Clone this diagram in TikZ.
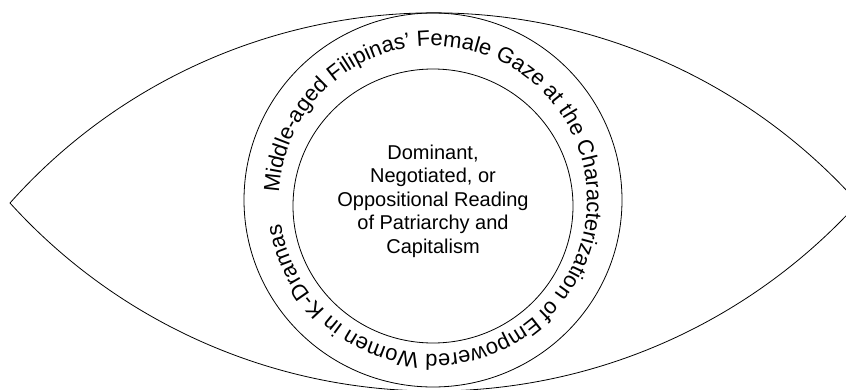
\documentclass[tikz,border=0pt]{standalone}
\usepackage{fontspec}
\setmainfont{Liberation Sans}
\usetikzlibrary{decorations.text}
\tikzset{
  thinline/.style={draw=black, line width=0.8pt},
  arctext/.style={decorate, decoration={text along path, text={#1}}}
}
\begin{document}
\begin{tikzpicture}[x=1pt,y=1pt]
\useasboundingbox (0,0) rectangle (846,389);
\clip (0,0) rectangle (846,389);
% eye outline
\coordinate (L) at (10,186);
\draw[thinline] (L) arc[start angle=138.3, end angle=41.7, radius=568];
\draw[thinline] (L) arc[start angle=222.17, end angle=317.83, radius=572.1];
% circles
\coordinate (Co) at (433,189);
\coordinate (Ci) at (433,183);
\draw[thinline] (Co) ellipse[x radius=189, y radius=187];
\draw[thinline] (Ci) ellipse[x radius=140, y radius=137];
% curved text
\path[arctext={|\fontsize{22}{22}\selectfont|Middle-aged Filipinas’ Female Gaze at the Characterization of Empowered Women in K-Dramas}]
  (Co) ++(177.4:154) arc[start angle=177.4, end angle=-182, radius=154];
% centre text
\node[align=center, font=\fontsize{20}{23.5}\selectfont, inner sep=0] (mid) at (433,188)
  {Dominant,\\Negotiated, or\\Oppositional Reading\\of Patriarchy and\\Capitalism};
\end{tikzpicture}
\end{document}
